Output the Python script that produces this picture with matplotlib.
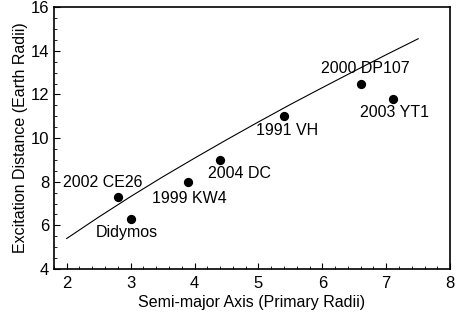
import matplotlib
matplotlib.use('Agg')
import matplotlib.pyplot as plt
from matplotlib.ticker import MultipleLocator

plt.rcParams['font.family'] = ['Liberation Sans', 'DejaVu Sans']

# binary asteroids: semi-major axis vs excitation distance
names = ['2002 CE26', 'Didymos', '1999 KW4', '2004 DC', '1991 VH', '2000 DP107', '2003 YT1']
semi_major = [2.8, 3.0, 3.9, 4.4, 5.4, 6.6, 7.1]
excitation = [7.3, 6.3, 8.0, 9.0, 11.0, 12.5, 11.8]

# where each label sits (data coords)
label_x = [2.57, 2.94, 3.92, 4.70, 5.45, 6.68, 7.13]
label_y = [7.96, 5.68, 7.23, 8.38, 10.34, 13.17, 11.16]

# trend curve
curve_x = [2.0, 2.5, 3.0, 3.5, 4.0, 4.5, 5.0, 5.5, 6.0, 6.5, 7.0, 7.5]
curve_y = [5.40, 6.38, 7.32, 8.22, 9.08, 9.92, 10.74, 11.54, 12.31, 13.07, 13.82, 14.55]

fig = plt.figure(figsize=(4.57, 3.23), dpi=100)
ax = fig.add_axes([0.118, 0.167, 0.867, 0.811])

ax.plot(curve_x, curve_y, color='black', lw=0.8)
ax.scatter(semi_major, excitation, s=32, color='black', zorder=3)
for n, lx, ly in zip(names, label_x, label_y):
    ax.text(lx, ly, n, ha='center', va='center', fontsize=11.5)

ax.set_xlim(1.8, 8)
ax.set_ylim(4, 16)
ax.xaxis.set_major_locator(MultipleLocator(1))
ax.xaxis.set_minor_locator(MultipleLocator(0.2))
ax.yaxis.set_major_locator(MultipleLocator(2))
ax.yaxis.set_minor_locator(MultipleLocator(0.5))
ax.tick_params(which='both', direction='in', top=False, right=False, labelsize=12)
ax.tick_params(which='major', length=4.5)
ax.tick_params(which='minor', length=2.2)
ax.tick_params(axis='x', pad=5)
for s in ax.spines.values():
    s.set_linewidth(1.2)

ax.set_xlabel('Semi-major Axis (Primary Radii)', fontsize=11.5, labelpad=3)
ax.set_ylabel('Excitation Distance (Earth Radii)', fontsize=11.5, labelpad=2)

fig.savefig('out.png', dpi=100)
